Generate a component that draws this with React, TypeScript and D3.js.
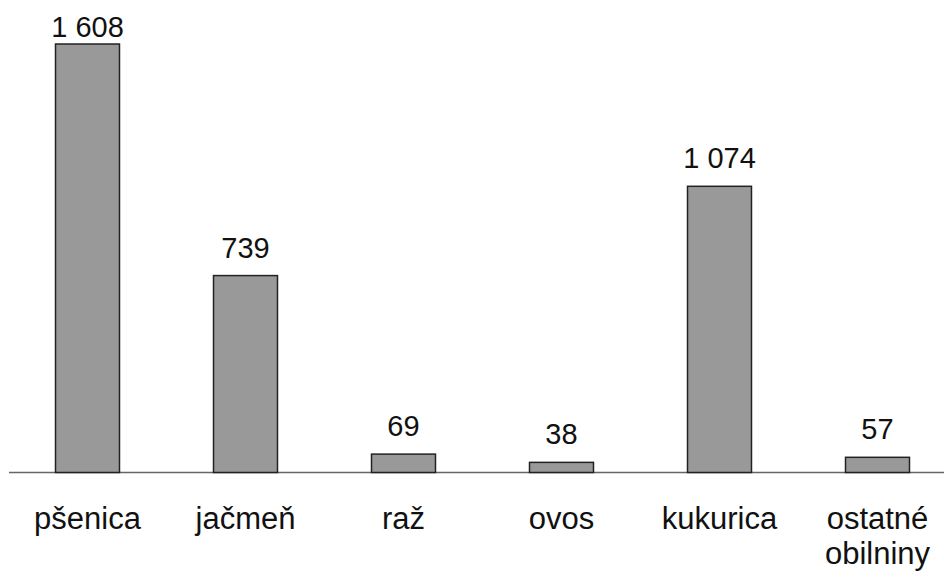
import { useEffect, useRef } from "react";
import * as d3 from "d3";

const categories = ["pšenica", "jačmeň", "raž", "ovos", "kukurica", "ostatné obilniny"];
const values = [1608, 739, 69, 38, 1074, 57];
const valueLabels = ["1 608", "739", "69", "38", "1 074", "57"];

export default function App() {
  const svgRef = useRef<SVGSVGElement>(null);
  const width = 944;
  const height = 577;

  useEffect(() => {
    if (!svgRef.current) return;
    const svg = d3.select(svgRef.current);
    svg.selectAll("*").remove();

    const baseY = 472.5;
    const x = d3
      .scaleBand()
      .domain(categories)
      .range([8, 956])
      .paddingInner(0.595)
      .paddingOuter(0.2975);

    const y = d3.scaleLinear().domain([0, 1608]).range([baseY, 44]);

    // axis line
    svg
      .append("line")
      .attr("x1", 9)
      .attr("x2", width)
      .attr("y1", baseY)
      .attr("y2", baseY)
      .attr("stroke", "#666")
      .attr("stroke-width", 1.5);

    const data = categories.map((c, i) => ({ c, v: values[i], l: valueLabels[i] }));

    svg
      .selectAll(".bar")
      .data(data)
      .enter()
      .append("rect")
      .attr("class", "bar")
      .attr("x", (d) => (x(d.c) ?? 0) + 0.5)
      .attr("width", x.bandwidth())
      .attr("y", (d) => y(d.v))
      .attr("height", (d) => baseY - y(d.v))
      .attr("fill", "#999999")
      .attr("stroke", "#222")
      .attr("stroke-width", 1.5);

    // value labels, the tallest one is pushed down to fit the top edge
    svg
      .selectAll(".val")
      .data(data)
      .enter()
      .append("text")
      .attr("class", "val")
      .attr("x", (d) => (x(d.c) ?? 0) + x.bandwidth() / 2 + 0.5)
      .attr("y", (d) => Math.max(y(d.v) - 18, 37))
      .attr("text-anchor", "middle")
      .attr("font-family", "Arimo, 'Liberation Sans', Arial, sans-serif")
      .attr("font-size", 29)
      .attr("fill", "#111")
      .text((d) => d.l);

    const cat = svg
      .selectAll(".cat")
      .data(data)
      .enter()
      .append("text")
      .attr("class", "cat")
      .attr("text-anchor", "middle")
      .attr("font-family", "Arimo, 'Liberation Sans', Arial, sans-serif")
      .attr("font-size", 31)
      .attr("fill", "#111");

    cat.each(function (d) {
      const words = d.c.split(" ");
      const cx = (x(d.c) ?? 0) + x.bandwidth() / 2 + 0.5;
      words.forEach((w, i) => {
        d3.select(this)
          .append("tspan")
          .attr("x", cx)
          .attr("y", 529 + i * 35)
          .text(w);
      });
    });

    return () => {
      svg.selectAll("*").remove();
    };
  }, []);

  return (
    <svg
      ref={svgRef}
      width={width}
      height={height}
      style={{ position: "absolute", left: 0, top: 0, background: "#fff" }}
    />
  );
}
